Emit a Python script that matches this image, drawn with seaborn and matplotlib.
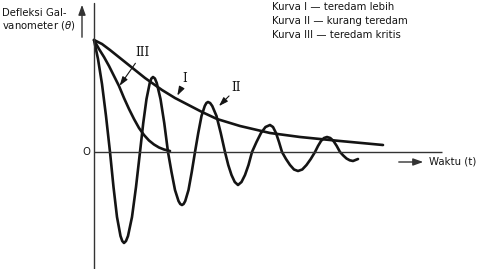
import matplotlib
matplotlib.use("Agg")
import matplotlib.pyplot as plt
import seaborn as sns
import pandas as pd

# ---- data (time in arbitrary units, deflection in arbitrary units; start deflection = 112)
t_I = [0, 8, 16, 26, 36, 51, 68, 81, 108, 123, 146, 176, 206, 246, 289]
theta_I = [112, 108, 102, 94, 86, 74, 62, 54, 40, 33, 26, 19, 15, 11, 7]

t_II = [0, 4, 8, 12, 16,
        19.5, 23, 26.5, 28.25, 30, 32, 34, 38, 42, 46,
        49.25, 52.5, 55.75, 57.4, 59, 60.9, 62.75, 66.5, 70.25, 74,
        77.5, 81, 84.5, 86.25, 88, 89.6, 91.25, 94.5, 97.75, 101,
        104.25, 107.5, 110.75, 112.4, 114, 116.1, 118.25, 122.5, 126.75, 131,
        134.25, 137.5, 140.75, 144, 147.5, 151, 154.5, 158,
        162.5, 167, 171.5, 176, 179, 182, 185, 188,
        192, 196, 200, 204, 208.25, 212.5, 216.75, 221,
        224, 227, 230, 233, 236.25, 239.5, 242.75, 246,
        249.25, 252.5, 255.75, 259, 264]
theta_II = [112, 93, 68, 36, 0,
            -35, -65, -84, -89, -91, -89, -84, -65, -35, 0,
            29, 53, 69, 73.5, 75, 73.5, 69, 53, 29, 0,
            -20, -38, -49, -52, -53, -52, -49, -38, -20, 0,
            19, 36, 46, 49, 50, 49, 46, 36, 19, 0,
            -13, -23, -30, -33, -30, -23, -13, 0,
            10, 19, 25, 27, 25, 19, 10, 0,
            -7, -13, -17.5, -19, -17.5, -13, -7, 0,
            6, 11, 14, 15, 14, 11, 6, 0,
            -3.5, -6.5, -8.3, -9, -7]

t_III = [0, 5, 10, 15, 20, 25, 30, 35, 40, 45, 50, 55, 60, 65, 70, 76]
theta_III = [112, 103, 95, 86, 76, 66, 54, 43, 33, 24, 17, 11.5, 7.5, 4.5, 2.5, 1]

curve_names = ["I", "II", "III"]
legend_lines = ["Kurva I \u2014 teredam lebih",
                "Kurva II \u2014 kurang teredam",
                "Kurva III \u2014 teredam kritis"]
y_label_lines = ["Defleksi Gal-", "vanometer ($\\theta$)"]
x_label = "Waktu (t)"
origin_label = "O"
t_axis_end = 348

df = pd.concat([
    pd.DataFrame({"t": t_I, "theta": theta_I, "kurva": "I"}),
    pd.DataFrame({"t": t_II, "theta": theta_II, "kurva": "II"}),
    pd.DataFrame({"t": t_III, "theta": theta_III, "kurva": "III"}),
], ignore_index=True)

sns.set_theme(style="white")
plt.rcParams["font.family"] = ["DejaVu Sans"]

W, H = 495, 269
fig = plt.figure(figsize=(W / 100, H / 100), dpi=100)
ax = fig.add_axes([0, 0, 1, 1])

ink = "#141414"
sns.lineplot(data=df, x="t", y="theta", hue="kurva", units="kurva",
             estimator=None, sort=False, legend=False,
             palette={"I": ink, "II": ink, "III": ink},
             linewidth=1.9, ax=ax, solid_capstyle="round", solid_joinstyle="round")

# axes lines
ax.axvline(0, color="#333333", linewidth=1.0, ymin=0, ymax=(149 + 117) / 269)
ax.hlines(0, 0, t_axis_end, color="#333333", linewidth=1.0)

ax.set_xlim(-94, W - 94)
ax.set_ylim(152 - H, 152)
ax.axis("off")


def fp(x, y):
    return (x / W, 1 - y / H)


txt_kw = dict(color=ink, fontsize=7.3)

# legend text
for i, line in enumerate(legend_lines):
    fig.text(*fp(272, 7.5 + 13.5 * i), line, ha="left", va="center", **txt_kw)

# y label
for i, line in enumerate(y_label_lines):
    fig.text(*fp(2, 12.5 + 13.5 * i), line, ha="left", va="center", **txt_kw)
ax.annotate("", xy=fp(82, 2), xytext=fp(82, 40), xycoords="figure fraction",
            textcoords="figure fraction",
            arrowprops=dict(arrowstyle="-|>,head_length=0.5,head_width=0.18",
                            color="#333333", lw=1.0))

# x label
ax.annotate("", xy=fp(426, 162), xytext=fp(396, 162), xycoords="figure fraction",
            textcoords="figure fraction",
            arrowprops=dict(arrowstyle="-|>,head_length=0.5,head_width=0.18",
                            color="#333333", lw=1.0))
fig.text(*fp(429, 162), x_label, ha="left", va="center", **txt_kw)

fig.text(*fp(86, 152), origin_label, ha="center", va="center", **txt_kw)

# curve labels with leader arrows
label_pos = {"III": (142, 53), "I": (185, 78), "II": (236, 88)}
leader = {"III": ((137, 61), (118, 88)),
          "I": ((183, 85), (176, 98)),
          "II": ((231, 94), (217, 108))}
for name in curve_names:
    fig.text(*fp(*label_pos[name]), name, ha="center", va="center",
             family="DejaVu Serif", fontsize=8.5, color=ink)
    (x0, y0), (x1, y1) = leader[name]
    ax.annotate("", xy=fp(x1, y1), xytext=fp(x0, y0), xycoords="figure fraction",
                textcoords="figure fraction",
                arrowprops=dict(arrowstyle="-|>,head_length=0.45,head_width=0.15",
                                color=ink, lw=0.8))

fig.savefig("out.png", dpi=100)
